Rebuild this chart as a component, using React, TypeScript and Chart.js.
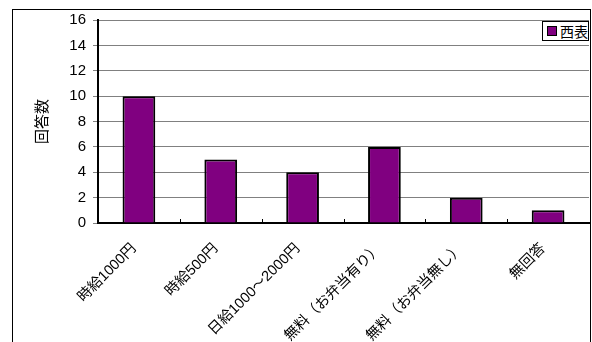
import React, { useEffect, useRef } from "react";
import { Chart, registerables } from "chart.js";

Chart.register(...registerables);

const categories = ["時給1000円", "時給500円", "日給1000～2000円", "無料（お弁当有り）", "無料（お弁当無し）", "無回答"];
const seriesName = "西表";
const seriesValues = [10, 5, 4, 6, 2, 1];
const yTicks = [0, 2, 4, 6, 8, 10, 12, 14, 16];
const yTitle = "回答数";

const FONT = '"Liberation Sans", "Noto Sans CJK JP", Arial, sans-serif';

const innerTicks = {
  id: "innerTicks",
  afterDatasetsDraw(chart: any) {
    const x = chart.scales.x;
    const ctx = chart.ctx;
    const bottom = chart.chartArea.bottom;
    ctx.save();
    ctx.strokeStyle = "#000";
    ctx.lineWidth = 1;
    for (let i = 1; i < categories.length; i++) {
      const px = Math.round((x.getPixelForTick(i - 1) + x.getPixelForTick(i)) / 2) + 0.5;
      ctx.beginPath();
      ctx.moveTo(px, bottom - 4);
      ctx.lineTo(px, bottom);
      ctx.stroke();
    }
    ctx.restore();
  },
};

export default function App() {
  const ref = useRef<HTMLCanvasElement>(null);
  useEffect(() => {
    const chart = new Chart(ref.current!, {
      type: "bar",
      data: {
        labels: categories,
        datasets: [
          {
            label: seriesName,
            data: seriesValues,
            backgroundColor: "#800080",
            borderColor: "#000",
            borderWidth: 2,
            barPercentage: 0.4,
            categoryPercentage: 1,
          },
        ],
      },
      options: {
        animation: false,
        responsive: false,
        layout: { padding: { left: 0, top: 20, right: 3, bottom: 0 } },
        plugins: { legend: { display: false }, tooltip: { enabled: false } },
        scales: {
          x: {
            afterFit: (s: any) => {
              s.height = 342 - 223 - 0;
            },
            grid: { display: true, drawOnChartArea: false, drawTicks: false },
            border: { color: "#000", width: 2 },
            ticks: {
              autoSkip: false,
              minRotation: 45,
              maxRotation: 45,
              padding: 17,
              labelOffset: -5,
              color: "#000",
              font: { family: FONT, size: 14.5 },
            },
          },
          y: {
            min: 0,
            max: 16,
            afterFit: (s: any) => {
              s.width = 98;
            },
            afterBuildTicks: (s: any) => {
              s.ticks = yTicks.map((v) => ({ value: v }));
            },
            grid: { color: "#808080", tickColor: "#808080", tickLength: 5, lineWidth: 1 },
            border: { color: "#000", width: 2 },
            ticks: {
              padding: 7,
              color: "#000",
              font: { family: FONT, size: 15 },
            },
            title: {
              display: true,
              text: yTitle,
              color: "#000",
              font: { family: FONT, size: 15 },
              padding: { top: 34, bottom: 0 },
            },
          },
        },
      },
      plugins: [innerTicks],
    });
    return () => chart.destroy();
  }, []);

  return (
    <div style={{ position: "fixed", left: 0, top: 0, width: 592, height: 342, overflow: "hidden", background: "#fff" }}>
      <canvas ref={ref} width={592} height={342} style={{ position: "absolute", left: 0, top: 0 }} />
      <div
        style={{
          position: "absolute",
          left: 12,
          top: 9,
          width: 577,
          height: 400,
          border: "1px solid #000",
          pointerEvents: "none",
        }}
      />
      <div
        style={{
          position: "absolute",
          left: 542,
          top: 21,
          width: 47,
          height: 20,
          border: "1px solid #000",
          background: "#fff",
          display: "flex",
          alignItems: "center",
          fontFamily: FONT,
          fontSize: 14,
          color: "#000",
          boxSizing: "border-box",
        }}
      >
        <span
          style={{
            display: "inline-block",
            width: 8,
            height: 8,
            background: "#800080",
            border: "1px solid #000",
            marginLeft: 4,
            marginRight: 3,
          }}
        />
        <span>{seriesName}</span>
      </div>
    </div>
  );
}
